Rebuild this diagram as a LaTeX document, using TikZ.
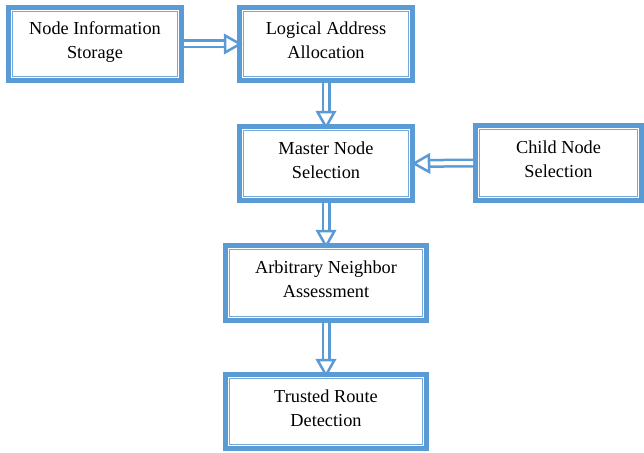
\documentclass[tikz,border=0pt]{standalone}
\usepackage{fontspec}
\setmainfont{Liberation Serif}
\usetikzlibrary{calc}
\definecolor{bl}{RGB}{91,155,213}
\newcommand\btxt[1]{\raisebox{2pt}[\height][\depth]{\begin{tabular}{@{}c@{}}#1\end{tabular}}}
\tikzset{
  box/.style={draw=bl, line width=5pt, inner sep=0pt, align=center,
    font=\fontsize{18.3}{24}\selectfont, fill=white,
    path picture={\draw[bl!85, line width=1.3pt]
      ([xshift=4.3pt,yshift=-4.3pt]path picture bounding box.north west) rectangle
      ([xshift=-4.3pt,yshift=4.3pt]path picture bounding box.south east);}},
  shaft/.style={draw=bl, line width=2.5pt, double=white, double distance=4pt},
  head/.style={draw=bl, line width=2.5pt, fill=white, line join=miter}
}
\newcommand\dconn[2]{%
  \coordinate (hb) at ($(#2)!15pt!(#1)$);
  \coordinate (h1) at ($(hb)!8.5pt!90:(#2)$);
  \coordinate (h2) at ($(hb)!8.5pt!-90:(#2)$);
  \draw[shaft] (#1) -- ($(#2)!13pt!(#1)$);
  \draw[head] (#2) -- (h1) -- (h2) -- cycle;
}
\begin{document}
\begin{tikzpicture}[x=1pt,y=-1pt]
\useasboundingbox (0,0) rectangle (644,452);
\node[box, minimum width=173pt, minimum height=73pt] (nis) at (95,44) {\btxt{Node Information\\Storage}};
\node[box, minimum width=173pt, minimum height=73pt] (laa) at (326,44) {\btxt{Logical Address\\Allocation}};
\node[box, minimum width=173pt, minimum height=74pt] (mns) at (326,163.5) {\btxt{Master Node\\Selection}};
\node[box, minimum width=166pt, minimum height=75pt] (cns) at (558.5,163) {\btxt{Child Node\\Selection}};
\node[box, minimum width=201pt, minimum height=75pt] (ana) at (326,283) {\btxt{Arbitrary Neighbor\\Assessment}};
\node[box, minimum width=201pt, minimum height=74pt] (trd) at (326,411.5) {\btxt{Trusted Route\\Detection}};
\dconn{nis.east}{[xshift=3pt]laa.west}
\dconn{laa.south}{[yshift=-3pt]mns.north}
\dconn{cns.west}{[xshift=-1pt]mns.east}
\dconn{mns.south}{[yshift=-3pt]ana.north}
\dconn{ana.south}{[yshift=-3pt]trd.north}
\end{tikzpicture}
\end{document}
